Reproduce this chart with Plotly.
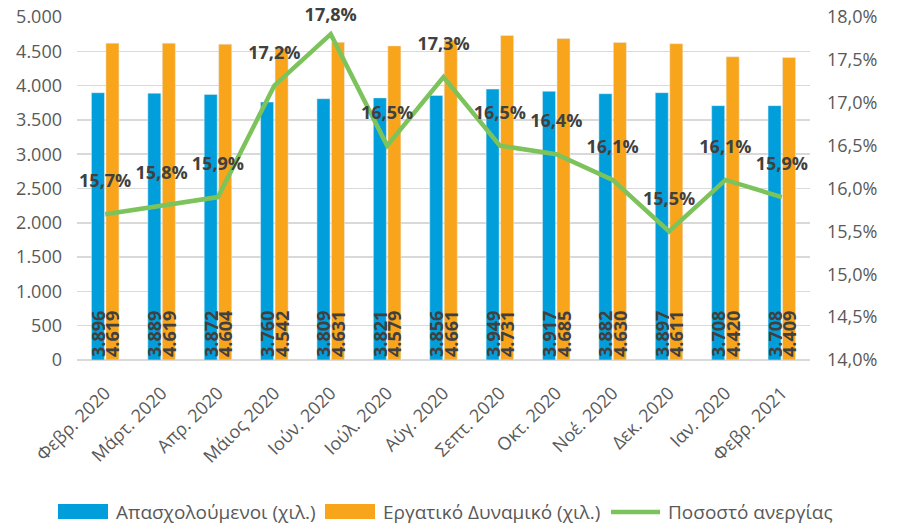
import plotly.graph_objects as go

months = ["Φεβρ. 2020", "Μάρτ. 2020", "Απρ. 2020", "Μάιος 2020", "Ιούν. 2020", "Ιούλ. 2020",
          "Αύγ. 2020", "Σεπτ. 2020", "Οκτ. 2020", "Νοέ. 2020", "Δεκ. 2020", "Ιαν. 2020", "Φεβρ. 2021"]
employed = [3896, 3889, 3872, 3760, 3809, 3821, 3856, 3949, 3917, 3882, 3897, 3708, 3708]
labour_force = [4619, 4619, 4604, 4542, 4631, 4579, 4661, 4731, 4685, 4630, 4611, 4420, 4409]
unemployment = [0.157, 0.158, 0.159, 0.172, 0.178, 0.165, 0.173, 0.165, 0.164, 0.161, 0.155, 0.161, 0.159]
series_names = ["Απασχολούμενοι (χιλ.)", "Εργατικό Δυναμικό (χιλ.)", "Ποσοστό ανεργίας"]

FONT = "Open Sans"
BLUE, ORANGE, GREEN = "#009FDB", "#F9A51B", "#7DC35B"
TICK_COLOR, LABEL_COLOR = "#595959", "#404040"

W, H = 898, 526
ML, MR, MT, MB = 77, 88, 17, 166
PW, PH = W - ML - MR, H - MT - MB


def px_x(px):
    return (px - ML) / PW


def px_y(py):
    return (H - MB - py) / PH


def thousands(v):
    return f"{v:,}".replace(",", ".")


# invisible marker sizes only control how far the line labels sit above the points
label_pad = [34] * len(months)
label_pad[unemployment.index(max(unemployment))] = 12

fig = go.Figure()
fig.add_trace(go.Bar(
    x=months, y=employed, name=series_names[0], marker_color=BLUE, showlegend=False,
    text=[thousands(v) for v in employed],
    textposition="inside", insidetextanchor="start", textangle=-90,
    textfont=dict(family=FONT, size=18, color=LABEL_COLOR, weight="bold"),
    hoverinfo="skip",
))
fig.add_trace(go.Bar(
    x=months, y=labour_force, name=series_names[1], marker_color=ORANGE, showlegend=False,
    text=[thousands(v) for v in labour_force],
    textposition="inside", insidetextanchor="start", textangle=-90,
    textfont=dict(family=FONT, size=18, color=LABEL_COLOR, weight="bold"),
    hoverinfo="skip",
))
fig.add_trace(go.Scatter(
    x=months, y=unemployment, name=series_names[2], yaxis="y2", showlegend=False,
    mode="lines+markers+text", line=dict(color=GREEN, width=4.5),
    marker=dict(size=label_pad, color="rgba(0,0,0,0)", opacity=0,
                line=dict(width=0, color="rgba(0,0,0,0)")),
    text=[f"{v*100:.1f}%".replace(".", ",") for v in unemployment],
    textposition="top center",
    textfont=dict(family=FONT, size=18, color=LABEL_COLOR, weight="bold"),
    cliponaxis=False, hoverinfo="skip",
))

# manual legend (wide swatches like the original)
legend_y = 512
shapes = [
    dict(type="rect", xref="paper", yref="paper", x0=px_x(58), x1=px_x(108),
         y0=px_y(519), y1=px_y(504), fillcolor=BLUE, line=dict(width=0)),
    dict(type="rect", xref="paper", yref="paper", x0=px_x(325), x1=px_x(375),
         y0=px_y(519), y1=px_y(504), fillcolor=ORANGE, line=dict(width=0)),
    dict(type="line", xref="paper", yref="paper", x0=px_x(611), x1=px_x(660),
         y0=px_y(legend_y), y1=px_y(legend_y), line=dict(color=GREEN, width=4.5)),
]
annotations = [
    dict(x=px_x(tx), y=px_y(legend_y), xref="paper", yref="paper", text=name,
         showarrow=False, xanchor="left", yanchor="middle",
         font=dict(family=FONT, size=19, color=TICK_COLOR))
    for tx, name in zip([114, 381, 666], series_names)
]

fig.update_layout(
    width=W, height=H,
    margin=dict(l=ML, r=MR, t=MT, b=MB),
    paper_bgcolor="white", plot_bgcolor="white",
    separators=",.",
    hovermode=False,
    barmode="group", bargap=0.486, bargroupgap=0.1,
    font=dict(family=FONT, size=18, color=TICK_COLOR),
    uniformtext=dict(minsize=18, mode="show"),
    xaxis=dict(tickangle=-45, showgrid=False, showline=False, ticks="", automargin=False,
               range=[-0.5, len(months) - 0.5], ticklabelstandoff=18,
               tickfont=dict(family=FONT, size=18, color=TICK_COLOR)),
    yaxis=dict(range=[0, 5000], dtick=500, tickformat=",d", showgrid=True, automargin=False,
               gridcolor="#D9D9D9", gridwidth=1.5, zeroline=True, zerolinecolor="#D9D9D9",
               zerolinewidth=1.5, ticklabelstandoff=14,
               tickfont=dict(family=FONT, size=18, color=TICK_COLOR), ticks=""),
    yaxis2=dict(range=[0.14, 0.18], dtick=0.005, tickformat=".1%", overlaying="y",
                side="right", showgrid=False, zeroline=False, automargin=False,
                ticklabelstandoff=16,
                tickfont=dict(family=FONT, size=18, color=TICK_COLOR), ticks=""),
    shapes=shapes,
    annotations=annotations,
    showlegend=False,
)

fig.write_html(
    "out.html",
    config={"displayModeBar": False, "staticPlot": True},
    post_script="document.body.style.margin='0';document.body.style.padding='0';"
                "document.body.style.overflow='hidden';",
)
